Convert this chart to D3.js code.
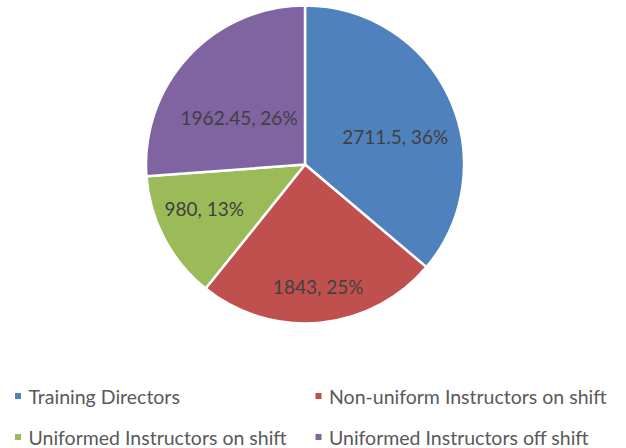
<!DOCTYPE html>
<html>
<head>
<meta charset="utf-8">
<script src="https://cdn.jsdelivr.net/npm/d3@7"></script>
<style>
  html, body { margin: 0; padding: 0; background: #fff; }
  svg { display: block; }
  text { font-family: Lato, "Open Sans", sans-serif; }
</style>
</head>
<body>
<svg id="chart" width="626" height="448"></svg>
<script>
// Staffing breakdown
const categories = [
  "Training Directors",
  "Non-uniform Instructors on shift",
  "Uniformed Instructors on shift",
  "Uniformed Instructors off shift"
];
const values = [2711.5, 1843, 980, 1962.45];
const colors = ["#4F81BD", "#C0504D", "#9BBB59", "#8064A2"];

// Small per-slice adjustments so labels sit in the roomiest part of each slice
const labelNudge = [[-5, 16], [3, 18], [-8, -5], [11, 24]];

const svg = d3.select("#chart");
const cx = 305, cy = 164.5, radius = 159;

const total = d3.sum(values);
const data = categories.map((c, i) => ({ name: c, value: values[i], color: colors[i], nudge: labelNudge[i] }));

const pie = d3.pie().value(d => d.value).sort(null);
const arcs = pie(data);

const arc = d3.arc().innerRadius(0).outerRadius(radius);
const labelArc = d3.arc().innerRadius(radius * 0.66).outerRadius(radius * 0.66);

const g = svg.append("g").attr("transform", `translate(${cx},${cy})`);

g.selectAll("path.slice")
  .data(arcs)
  .join("path")
  .attr("class", "slice")
  .attr("d", arc)
  .attr("fill", d => d.data.color)
  .attr("stroke", "#fff")
  .attr("stroke-width", 2.5)
  .attr("stroke-linejoin", "round");

const fmtPct = v => Math.round(v / total * 100) + "%";

g.selectAll("text.lbl")
  .data(arcs)
  .join("text")
  .attr("class", "lbl")
  .attr("transform", d => {
    const [x, y] = labelArc.centroid(d);
    return `translate(${x + d.data.nudge[0]},${y + d.data.nudge[1]})`;
  })
  .attr("text-anchor", "middle")
  .attr("dominant-baseline", "central")
  .attr("font-size", 19)
  .attr("fill", "#404040")
  .text(d => `${d.data.value}, ${fmtPct(d.data.value)}`);

// Legend: two columns, two rows
const legend = svg.append("g");
const colX = [15, 315.5], rowY = [396, 437];
const items = legend.selectAll("g.item")
  .data(data)
  .join("g")
  .attr("class", "item")
  .attr("transform", (d, i) => `translate(${colX[i % 2]},${rowY[Math.floor(i / 2)]})`);

items.append("rect")
  .attr("x", 0).attr("y", -3)
  .attr("width", 6).attr("height", 6)
  .attr("fill", d => d.color);

items.append("text")
  .attr("x", 13.5)
  .attr("dominant-baseline", "central")
  .attr("font-size", 19.5)
  .attr("fill", "#595959")
  .text(d => d.name);
</script>
</body>
</html>
